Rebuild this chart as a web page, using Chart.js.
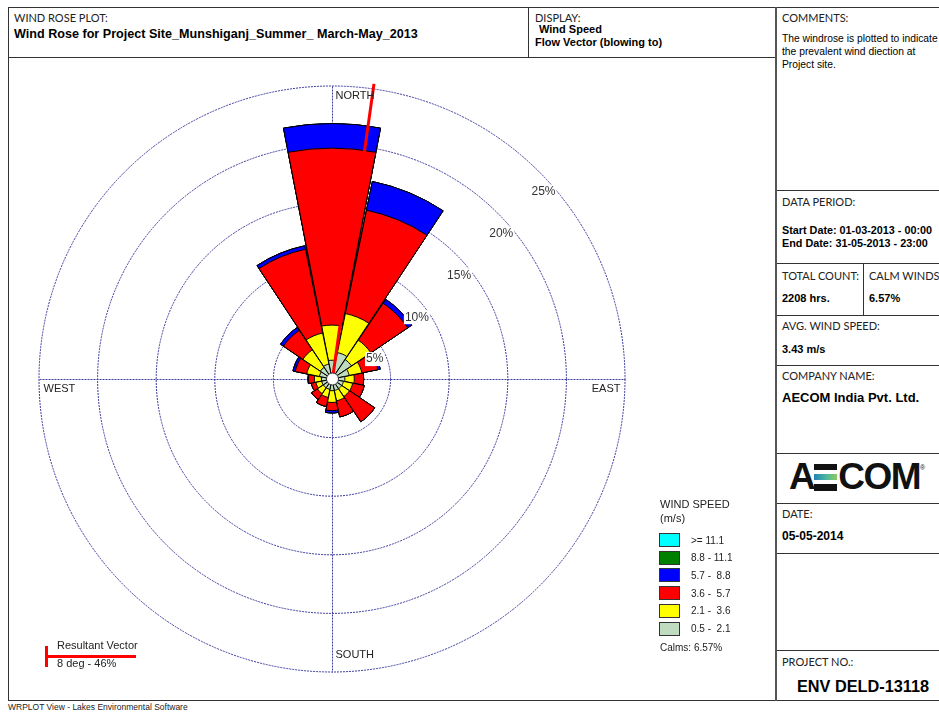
<!DOCTYPE html>
<html>
<head>
<meta charset="utf-8">
<script src="https://cdn.jsdelivr.net/npm/chart.js@4.4.1/dist/chart.umd.min.js"></script>
<style>
  body{margin:0;width:939px;height:713px;overflow:hidden;background:#fff;position:relative;
       font-family:"Liberation Sans",Arial,sans-serif;color:#000}
  .t{position:absolute;white-space:pre;line-height:13px}
  .cap{font-family:Lato,"Open Sans",sans-serif;font-size:11px;color:#222}
  .b{font-weight:bold}
  .ln{position:absolute;background:#333}
  #rose{position:absolute;left:9px;top:58px}
  .sw{position:absolute;width:19px;height:12px;border:1px solid #333}
  .logo{position:absolute;left:789px;top:459px;height:36px;display:flex;align-items:center;
        font-family:"Liberation Sans",Arial,sans-serif;font-weight:bold;font-size:37px;letter-spacing:-1.5px;color:#111}
  .ebars{display:inline-flex;flex-direction:column;justify-content:space-between;width:23px;height:27px;margin:0 1px 0 0}
  .ebars span{display:block;height:6.5px;background:#111}
  .ebars span.mid{background:linear-gradient(90deg,#1f86b5,#4fb8a0 55%,#8cc95a)}
</style>
</head>
<body>

<!-- frame -->
<div class="ln" style="left:8px;top:7px;width:931px;height:1px"></div>
<div class="ln" style="left:8px;top:7px;width:1px;height:694px"></div>
<div class="ln" style="left:8px;top:700px;width:931px;height:1px"></div>
<div class="ln" style="left:8px;top:57px;width:767px;height:1px"></div>
<div class="ln" style="left:528px;top:7px;width:1px;height:50px"></div>
<div class="ln" style="left:775px;top:7px;width:2px;height:694px;background:#555"></div>
<div class="ln" style="left:777px;top:190px;width:162px;height:1px"></div>
<div class="ln" style="left:777px;top:263px;width:162px;height:1px"></div>
<div class="ln" style="left:863px;top:263px;width:1px;height:52px"></div>
<div class="ln" style="left:777px;top:315px;width:162px;height:1px"></div>
<div class="ln" style="left:777px;top:365px;width:162px;height:1px"></div>
<div class="ln" style="left:777px;top:453px;width:162px;height:1px"></div>
<div class="ln" style="left:777px;top:503px;width:162px;height:1px"></div>
<div class="ln" style="left:777px;top:553px;width:162px;height:1px"></div>
<div class="ln" style="left:777px;top:650px;width:162px;height:1px"></div>

<!-- header -->
<div class="t cap" style="left:14px;top:11px">WIND ROSE PLOT:</div>
<div class="t b" style="left:14px;top:28px;font-size:12.6px">Wind Rose for Project Site_Munshiganj_Summer_ March-May_2013</div>
<div class="t cap" style="left:535px;top:11px">DISPLAY:</div>
<div class="t b" style="left:539px;top:23px;font-size:11px">Wind Speed</div>
<div class="t b" style="left:535px;top:36px;font-size:11px">Flow Vector (blowing to)</div>

<!-- side panel -->
<div class="t cap" style="left:782px;top:11px">COMMENTS:</div>
<div class="t" style="left:782px;top:32px;font-size:10.3px">The windrose is plotted to indicate</div>
<div class="t" style="left:782px;top:45px;font-size:10.3px">the prevalent wind diection at</div>
<div class="t" style="left:782px;top:58px;font-size:10.3px">Project site.</div>

<div class="t cap" style="left:782px;top:195px">DATA PERIOD:</div>
<div class="t b" style="left:782px;top:224px;font-size:10.8px">Start Date: 01-03-2013 - 00:00</div>
<div class="t b" style="left:782px;top:237px;font-size:10.8px">End Date: 31-05-2013 - 23:00</div>

<div class="t cap" style="left:782px;top:269px">TOTAL COUNT:</div>
<div class="t cap" style="left:869px;top:269px">CALM WINDS:</div>
<div class="t b" style="left:782px;top:292px;font-size:11px">2208 hrs.</div>
<div class="t b" style="left:869px;top:292px;font-size:11px">6.57%</div>

<div class="t cap" style="left:782px;top:319px">AVG. WIND SPEED:</div>
<div class="t b" style="left:782px;top:343px;font-size:11px">3.43 m/s</div>

<div class="t cap" style="left:782px;top:369px">COMPANY NAME:</div>
<div class="t b" style="left:782px;top:390px;font-size:13px;line-height:15px">AECOM India Pvt. Ltd.</div>

<div class="logo"><span>A</span><span class="ebars"><span></span><span class="mid"></span><span></span></span><span>COM</span><span style="font-size:7px;align-self:flex-start;margin-top:5px;font-weight:normal">&#174;</span></div>

<div class="t cap" style="left:782px;top:507px">DATE:</div>
<div class="t b" style="left:782px;top:530px;font-size:12px">05-05-2014</div>

<div class="t cap" style="left:782px;top:655px">PROJECT NO.:</div>
<div class="t b" style="left:797px;top:676px;font-size:16.3px;line-height:20px">ENV DELD-13118</div>

<div class="t" style="left:8px;top:702px;font-size:8.5px;line-height:11px;color:#222">WRPLOT View - Lakes Environmental Software</div>

<!-- rose -->
<canvas id="rose" width="766" height="642"></canvas>

<!-- resultant vector key -->
<div class="ln" style="left:45px;top:655px;width:91px;height:3px;background:#ff0000"></div>
<div class="ln" style="left:45px;top:646px;width:3px;height:21px;background:#ff0000"></div>
<div class="t" style="left:57px;top:639px;font-size:11px;color:#222">Resultant Vector</div>
<div class="t" id="resText" style="left:57px;top:657px;font-size:11px;color:#222"></div>

<!-- speed legend -->
<div id="legend"></div>

<script>
// 16 flow directions (blowing to), clockwise from north
const directions = ['N','NNE','NE','ENE','E','ESE','SE','SSE','S','SSW','SW','WSW','W','WNW','NW','NNW'];

// wind speed classes (m/s), lowest first
const speedClasses = ['0.5 -  2.1','2.1 -  3.6','3.6 -  5.7','5.7 -  8.8','8.8 - 11.1','>= 11.1'];
const classColors  = ['#c0dcc0','#ffff00','#ff0000','#0000ff','#008000','#00ffff'];

// frequency (% of hours) for each class by direction
const freq_0_5_2_1  = [1.6, 2.3, 2.0, 1.5, 1.1, 1.0, 1.0, 1.0, 1.0, 0.9, 0.9, 0.9, 0.9, 1.1, 1.2, 1.3];
const freq_2_1_3_6  = [3.0, 3.4, 2.0, 1.1, 0.8, 0.8, 0.8, 0.9, 1.0, 0.7, 0.6, 0.5, 0.6, 1.1, 1.8, 2.7];
const freq_3_6_5_7  = [15.1, 9.0, 3.8, 1.4, 0.8, 1.0, 2.6, 1.4, 0.7, 0.8, 0.6, 0.4, 0.5, 1.0, 2.0, 7.3];
const freq_5_7_8_8  = [2.1, 2.5, 0.4, 0.2, 0.0, 0.0, 0.0, 0.0, 0.2, 0.0, 0.0, 0.0, 0.05, 0.2, 0.3, 0.3];
const freq_8_8_11_1 = [0, 0, 0, 0, 0, 0, 0, 0, 0, 0, 0, 0, 0, 0, 0, 0];
const freq_ge_11_1  = [0, 0, 0, 0, 0, 0, 0, 0, 0, 0, 0, 0, 0, 0, 0, 0];

// rings (%)
const ringTicks = [5, 10, 15, 20, 25];

const calmsPct = 6.57;
const resultantDeg = 8;
const resultantPct = 46;

const classFreqs = [freq_0_5_2_1, freq_2_1_3_6, freq_3_6_5_7, freq_5_7_8_8, freq_8_8_11_1, freq_ge_11_1];

// petals: each dataset holds the running total up to its class, so the
// lower classes are painted over the higher ones (dataset 0 is drawn last)
const WEDGE = 21.9;
const GAP = 360 / directions.length - WEDGE;
let running = directions.map(() => 0);
const cumulative = classFreqs.map(arr => {
  running = running.map((v, i) => v + arr[i]);
  return running.slice();
});
const withGaps = vals => vals.flatMap(v => [v, 0]);
const labels = directions.flatMap(d => [d, '']);

const datasets = cumulative.map((cum, k) => ({
  label: speedClasses[k],
  data: withGaps(cum),
  backgroundColor: classColors[k],
  borderColor: '#000',
  borderWidth: c => (c.dataIndex % 2 ? 0 : 1),
  angle: c => (c.dataIndex % 2 ? GAP : WEDGE)
}));

const gridColor = '#3a3a9c';

const roseDecor = {
  id: 'roseDecor',
  beforeDatasetsDraw(chart) {
    const s = chart.scales.r, c = chart.ctx;
    const R = s.getDistanceFromCenterForValue(s.max);
    const x0 = s.xCenter + 0.5, y0 = s.yCenter + 0.5;
    c.save();
    c.strokeStyle = gridColor;
    c.lineWidth = 1;
    c.setLineDash([2, 1]);
    c.beginPath();
    c.moveTo(x0 - R, y0); c.lineTo(x0 + R, y0);
    c.moveTo(x0, y0 - R); c.lineTo(x0, y0 + R);
    c.stroke();
    c.restore();
  },
  afterDatasetsDraw(chart) {
    const s = chart.scales.r, c = chart.ctx;
    const xc = s.xCenter + 0.5, yc = s.yCenter;
    const R = s.getDistanceFromCenterForValue(s.max);

    // resultant vector
    const th = resultantDeg * Math.PI / 180;
    const len = s.getDistanceFromCenterForValue(Math.min(resultantPct, s.max)) + 5;
    c.save();
    c.strokeStyle = '#ff0000';
    c.lineWidth = 3;
    c.beginPath();
    c.moveTo(xc, yc);
    c.lineTo(xc + len * Math.sin(th), yc - len * Math.cos(th));
    c.stroke();

    // calm circle
    c.beginPath();
    c.arc(xc, yc, 6, 0, Math.PI * 2);
    c.fillStyle = '#fff';
    c.fill();
    c.lineWidth = 1;
    c.strokeStyle = '#333';
    c.stroke();

    // ring labels
    c.font = '12px "Liberation Sans", Arial, sans-serif';
    c.textAlign = 'center';
    c.textBaseline = 'middle';
    ringTicks.forEach(v => {
      const rp = s.getDistanceFromCenterForValue(v);
      const x = xc + 0.72 * rp, y = yc + 22 - 0.715 * rp;
      const txt = v + '%';
      const w = c.measureText(txt).width;
      c.fillStyle = '#fff';
      c.fillRect(x - w / 2 - 1, y - 7, w + 2, 14);
      c.fillStyle = '#333';
      c.fillText(txt, x, y);
    });

    // compass names
    c.font = '11px "Liberation Sans", Arial, sans-serif';
    c.fillStyle = '#222';
    c.textAlign = 'left';
    c.fillText('NORTH', xc + 3, yc - R + 10);
    c.fillText('SOUTH', xc + 3, yc + R - 17);
    c.fillText('WEST', xc - R + 4, yc + 10);
    c.textAlign = 'right';
    c.fillText('EAST', xc + R - 5, yc + 10);
    c.restore();
  }
};

new Chart(document.getElementById('rose'), {
  type: 'polarArea',
  data: { labels, datasets },
  options: {
    responsive: false,
    animation: false,
    layout: { padding: { left: 30, top: 28, right: 150, bottom: 28 } },
    plugins: { legend: { display: false }, tooltip: { enabled: false } },
    scales: {
      r: {
        min: 0,
        max: 25,
        startAngle: -WEDGE / 2,
        ticks: { display: false, stepSize: 5 },
        grid: { color: gridColor, lineWidth: 1, circular: true },
        border: { dash: [2, 1] },
        angleLines: { display: false },
        pointLabels: { display: false }
      }
    }
  },
  plugins: [roseDecor]
});

// speed legend, highest class on top
const lg = document.getElementById('legend');
let html = '<div class="t" style="left:660px;top:498px;font-size:11px;color:#222">WIND SPEED</div>' +
           '<div class="t" style="left:660px;top:512px;font-size:11px;color:#222">(m/s)</div>';
for (let k = speedClasses.length - 1, row = 0; k >= 0; k--, row++) {
  const top = 533 + row * 17.7;
  html += `<div class="sw" style="left:659px;top:${top}px;background:${classColors[k]}"></div>`;
  html += `<div class="t" style="left:691px;top:${top + 0.5}px;font-size:10px;color:#222">${speedClasses[k].replace('>', '&gt;')}</div>`;
}
html += `<div class="t" style="left:660px;top:641px;font-size:10px;color:#222">Calms: ${calmsPct.toFixed(2)}%</div>`;
lg.innerHTML = html;
document.getElementById('resText').textContent = `${resultantDeg} deg - ${resultantPct}%`;
</script>
</body>
</html>
